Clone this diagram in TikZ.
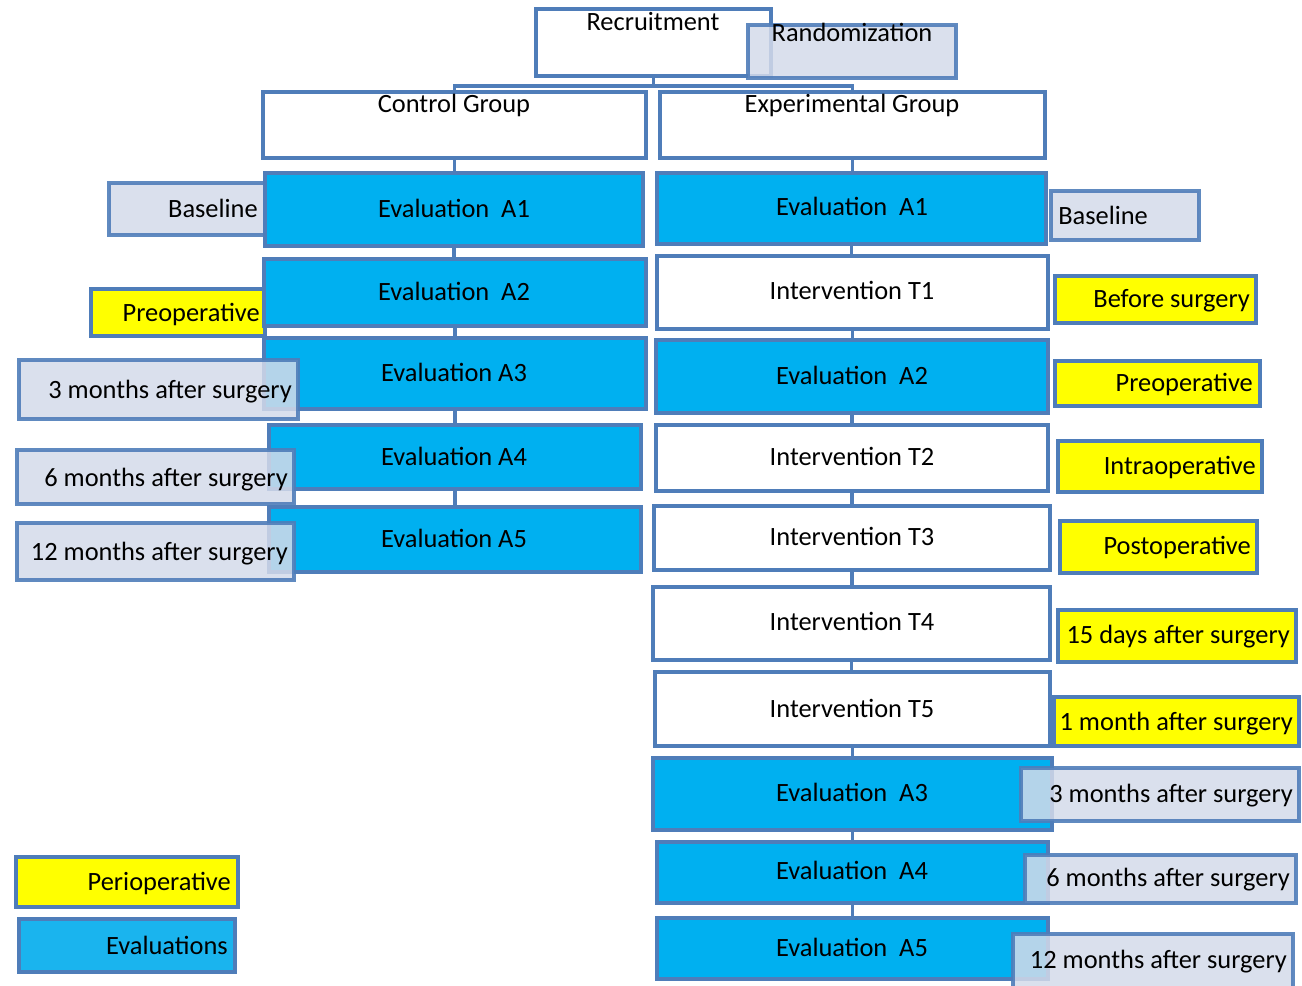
\documentclass[tikz,border=0pt]{standalone}
\usepackage{fontspec}
\setmainfont{Carlito}
\usetikzlibrary{backgrounds}
\definecolor{bord}{RGB}{79,125,185}
\definecolor{evblue}{RGB}{0,176,240}
\definecolor{legblue}{RGB}{26,180,238}
\definecolor{greyb}{RGB}{212,219,234}
\definecolor{yel}{RGB}{255,255,0}
\newcommand\bx[6]{\pgfmathsetmacro\bxw{(#4-#2)*0.75}\pgfmathsetmacro\bxh{(#5-#3)*0.75}\node[#6,minimum width=\bxw pt,minimum height=\bxh pt,anchor=north west] (#1) at (#2,#3) {};}
\tikzset{
  boxbase/.style={draw=bord,line width=2.6pt,inner sep=0pt,outer sep=0pt,rectangle},
  evalbox/.style={boxbase,fill=evblue},
  whitebox/.style={boxbase,fill=white},
  greylab/.style={boxbase,fill=greyb,fill opacity=0.85,draw opacity=0.9},
  yellab/.style={boxbase,fill=yel},
  legeval/.style={boxbase,fill=legblue},
  conn/.style={draw=bord,line width=2.6pt},
  txt/.style={anchor=base,inner sep=0pt},
  txtr/.style={anchor=base east,inner sep=0pt},
  txtl/.style={anchor=base west,inner sep=0pt}
}
\begin{document}
\begin{tikzpicture}[x=0.75pt,y=-0.75pt,font=\fontsize{19.8}{23}\selectfont]
\useasboundingbox (0,0) rectangle (1302,985);
% top
\bx{rec}{536}{9}{771}{76}{whitebox}
\bx{rand}{748}{25}{956}{78}{greylab}
\bx{ctrl}{263}{92}{646}{158}{whitebox}
\bx{exp}{660}{92}{1045}{158}{whitebox}
% left labels behind
\bx{lbase}{109}{183}{265}{235}{greylab}
\bx{lpre}{91}{289}{265}{336}{yellab}
% left column
\bx{ca1}{265}{173}{643}{246}{evalbox}
\bx{ca2}{264}{259}{646}{326}{evalbox}
\bx{ca3}{264}{338}{646}{409}{evalbox}
\bx{ca4}{269}{425}{641}{489}{evalbox}
\bx{ca5}{269}{507}{641}{572}{evalbox}
% left labels on top
\bx{l3m}{19}{360}{298}{419}{greylab}
\bx{l6m}{17}{450}{294}{504}{greylab}
\bx{l12m}{17}{523}{294}{580}{greylab}
% right column
\bx{ea1}{657}{173}{1046}{244}{evalbox}
\bx{et1}{657}{256}{1048}{329}{whitebox}
\bx{ea2}{656}{340}{1048}{413}{evalbox}
\bx{et2}{656}{425}{1048}{491}{whitebox}
\bx{et3}{654}{506}{1050}{570}{whitebox}
\bx{et4}{653}{587}{1050}{660}{whitebox}
\bx{et5}{655}{672}{1050}{746}{whitebox}
\bx{ea3}{653}{758}{1052}{830}{evalbox}
\bx{ea4}{657}{842}{1048}{903}{evalbox}
\bx{ea5}{657}{918}{1048}{979}{evalbox}
% right labels
\bx{rbase}{1051}{191}{1199}{240}{greylab}
\bx{rbef}{1055}{276}{1256}{323}{yellab}
\bx{rpre}{1055}{361}{1260}{406}{yellab}
\bx{rintra}{1058}{441}{1262}{492}{yellab}
\bx{rpost}{1060}{521}{1257}{573}{yellab}
\bx{r15d}{1058}{610}{1296}{662}{yellab}
\bx{r1m}{1054}{697}{1299}{746}{yellab}
\bx{r3m}{1021}{768}{1299}{821}{greylab}
\bx{r6m}{1025}{855}{1296}{903}{greylab}
\bx{r12m}{1013}{934}{1293}{992}{greylab}
% legend
\bx{legperi}{16}{857}{238}{907}{yellab}
\bx{legeval}{19}{919}{235}{972}{legeval}
% connectors
\begin{scope}[on background layer]
\draw[conn] (rec.south) -- ++(0,10) -| (ctrl.north);
\draw[conn] (rec.south) -- ++(0,10) -| (exp.north);
\draw[conn] (ctrl.south) -- (ctrl.south |- ca1.north);
\draw[conn] (ca1.south) -- (ca1.south |- ca2.north);
\draw[conn] (ca2.south) -- (ca2.south |- ca3.north);
\draw[conn] (ca3.south) -- (ca3.south |- ca4.north);
\draw[conn] (ca4.south) -- (ca4.south |- ca5.north);
\draw[conn] (exp.south) -- (exp.south |- ea1.north);
\draw[conn] (ea1.south) -- (ea1.south |- et1.north);
\draw[conn] (et1.south) -- (et1.south |- ea2.north);
\draw[conn] (ea2.south) -- (ea2.south |- et2.north);
\draw[conn] (et2.south) -- (et2.south |- et3.north);
\draw[conn] (et3.south) -- (et3.south |- et4.north);
\draw[conn] (et4.south) -- (et4.south |- et5.north);
\draw[conn] (et5.south) -- (et5.south |- ea3.north);
\draw[conn] (ea3.south) -- (ea3.south |- ea4.north);
\draw[conn] (ea4.south) -- (ea4.south |- ea5.north);
\end{scope}
% texts
\node[txt] (trec) at (653,30) {Recruitment};
\node[txt] (trand) at (852,41) {Randomization};
\node[txt] (tctrl) at (454,112) {Control Group};
\node[txt] (texp) at (852,112) {Experimental Group};
\node[txtr] (tlbase) at (258,217) {Baseline};
\node[txtr] (tlpre) at (260,321) {Preoperative};
\node[txt] (tca1) at (454,217) {Evaluation\ \ A1};
\node[txt] (tca2) at (454,300) {Evaluation\ \ A2};
\node[txt] (tca3) at (454,381) {Evaluation A3};
\node[txt] (tca4) at (454,465) {Evaluation A4};
\node[txt] (tca5) at (454,547) {Evaluation A5};
\node[txtr] (tl3m) at (292,398) {3 months after surgery};
\node[txtr] (tl6m) at (288,486) {6 months after surgery};
\node[txtr] (tl12m) at (288,560) {12 months after surgery};
\node[txt] (tea1) at (852,215) {Evaluation\ \ A1};
\node[txt] (tet1) at (852,299) {Intervention T1};
\node[txt] (tea2) at (852,384) {Evaluation\ \ A2};
\node[txt] (tet2) at (852,465) {Intervention T2};
\node[txt] (tet3) at (852,545) {Intervention T3};
\node[txt] (tet4) at (852,630) {Intervention T4};
\node[txt] (tet5) at (852,717) {Intervention T5};
\node[txt] (tea3) at (852,801) {Evaluation\ \ A3};
\node[txt] (tea4) at (852,879) {Evaluation\ \ A4};
\node[txt] (tea5) at (852,956) {Evaluation\ \ A5};
\node[txtl] (trbase) at (1058,224) {Baseline};
\node[txtr] (trbef) at (1250,307) {Before surgery};
\node[txtr] (trpre) at (1253,391) {Preoperative};
\node[txtr] (trintra) at (1256,474) {Intraoperative};
\node[txtr] (trpost) at (1251,554) {Postoperative};
\node[txtr] (tr15d) at (1290,643) {15 days after surgery};
\node[txtr] (tr1m) at (1293,730) {1 month after surgery};
\node[txtr] (tr3m) at (1293,802) {3 months after surgery};
\node[txtr] (tr6m) at (1290,886) {6 months after surgery};
\node[txtr] (tr12m) at (1287,968) {12 months after surgery};
\node[txtr] (tlegperi) at (231,890) {Perioperative};
\node[txtr] (tlegeval) at (228,954) {Evaluations};
\end{tikzpicture}
\end{document}
